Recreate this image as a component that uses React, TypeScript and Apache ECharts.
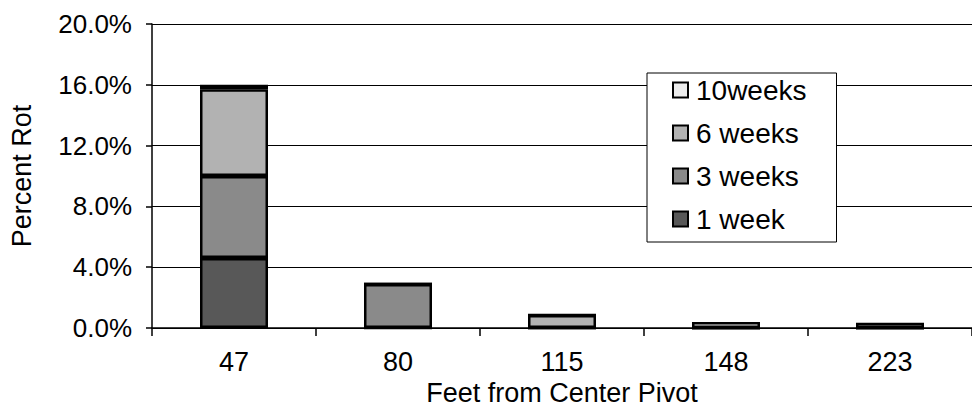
import React, { useEffect, useRef } from "react";
import * as echarts from "echarts";

const categories = ["47", "80", "115", "148", "223"];
const week1 = [4.6, 0, 0, 0, 0];
const week3 = [5.4, 2.9, 0, 0, 0];
const week6 = [5.7, 0, 0.85, 0, 0];
const week10 = [0.3, 0, 0, 0.4, 0.35];
const legendOrder = ["10weeks", "6 weeks", "3 weeks", "1 week"];

const FONT = "Liberation Sans, Arial, sans-serif";

export default function App() {
  const ref = useRef<HTMLDivElement>(null);
  useEffect(() => {
    if (!ref.current) return;
    const chart = echarts.init(ref.current, undefined, { renderer: "svg" });
    const mk = (name: string, data: number[], color: string) => ({
      name,
      type: "bar",
      stack: "rot",
      data,
      barWidth: 68,
      itemStyle: { color, borderColor: "#000", borderWidth: 2.5 },
    });
    chart.setOption({
      animation: false,
      backgroundColor: "#fff",
      textStyle: { fontFamily: FONT, color: "#000" },
      grid: { left: 152, top: 24, right: 0, bottom: 81, containLabel: false, outerBoundsMode: "none" },
      legend: {
        data: legendOrder,
        orient: "vertical",
        left: 647,
        top: 73,
        backgroundColor: "#fff",
        borderColor: "#000",
        borderWidth: 1,
        borderRadius: 0,
        padding: [2, 30, 8, 25],
        itemGap: 13,
        itemWidth: 15,
        itemHeight: 15,
        icon: "rect",
        itemStyle: { borderColor: "#000", borderWidth: 2 },
        textStyle: { fontFamily: FONT, fontSize: 28, color: "#000", padding: [0, 0, 0, 3], lineHeight: 30 },
      },
      xAxis: {
        type: "category",
        data: categories,
        name: "Feet from Center Pivot",
        nameLocation: "middle",
        nameGap: 33,
        nameTextStyle: { fontFamily: FONT, fontSize: 27, color: "#000" },
        axisLine: { lineStyle: { color: "#000", width: 1.5 } },
        axisTick: { show: true, length: 8, lineStyle: { color: "#000", width: 1.5 } },
        axisLabel: { fontFamily: FONT, fontSize: 27, color: "#000", margin: 20 },
      },
      yAxis: {
        type: "value",
        min: 0,
        max: 20,
        interval: 4,
        name: "Percent Rot",
        nameLocation: "middle",
        nameGap: 117,
        nameTextStyle: { fontFamily: FONT, fontSize: 27, color: "#000" },
        axisLine: { show: true, lineStyle: { color: "#000", width: 1.5 } },
        axisTick: { show: true, length: 6, lineStyle: { color: "#000", width: 1.5 } },
        axisLabel: {
          fontFamily: FONT,
          fontSize: 26,
          color: "#000",
          margin: 20,
          formatter: (v: number) => v.toFixed(1) + "%",
        },
        splitLine: { show: true, lineStyle: { color: "#000", width: 1 } },
      },
      series: [
        mk("1 week", week1, "#585858"),
        mk("3 weeks", week3, "#8a8a8a"),
        mk("6 weeks", week6, "#b2b2b2"),
        mk("10weeks", week10, "#ececec"),
      ],
    });
    return () => chart.dispose();
  }, []);
  return (
    <div
      ref={ref}
      style={{ position: "fixed", left: 0, top: 0, width: 972, height: 409, background: "#fff" }}
    />
  );
}
